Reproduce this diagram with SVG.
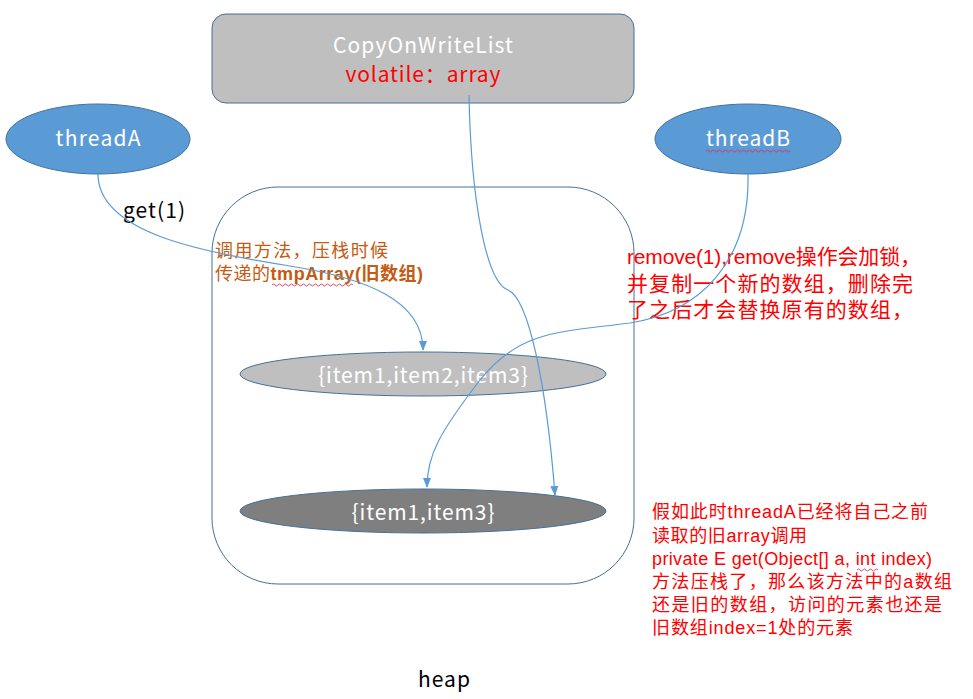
<svg xmlns="http://www.w3.org/2000/svg" width="973" height="699" viewBox="0 0 973 699">
<style>
  text { font-family: "Noto Sans CJK SC", "Liberation Sans", sans-serif; }
  text.ml, .ml text { font-family: "Liberation Sans", "Noto Sans CJK SC", sans-serif; }
  .box { fill: #bfbfbf; stroke: #41719c; stroke-width: 1; }
  .thread { fill: #5b9bd5; stroke: #41719c; stroke-width: 1; }
  .heap { fill: none; stroke: #41719c; stroke-width: 1; }
  .arr1 { fill: #bfbfbf; stroke: #41719c; stroke-width: 1; }
  .arr2 { fill: #7f7f7f; stroke: #41719c; stroke-width: 1; }
  .wt { fill: #ffffff; font-size: 21px; text-anchor: middle; }
  .red { fill: #ff0000; }
  .org { fill: #c55a11; font-size: 18px; }
  .blk { fill: #000000; font-size: 21px; }
  .conn { fill: none; stroke: #5b9bd5; stroke-width: 1.2; }
  .squig { fill: none; stroke: #e03060; stroke-width: 0.9; }
</style>
<defs>
  <marker id="ah" markerUnits="userSpaceOnUse" markerWidth="10" markerHeight="10" viewBox="0 0 10 10" refX="9" refY="5" orient="auto">
    <path d="M0,1 L10,5 L0,9 Z" fill="#5b9bd5"/>
  </marker>
</defs>

<g id="copyOnWriteList">
  <rect class="box" x="212" y="14" width="422" height="89" rx="14"/>
  <text class="wt" x="423" y="53" textLength="180">CopyOnWriteList</text>
  <text class="red" x="423" y="82" font-size="21" text-anchor="middle" textLength="155">volatile：array</text>
</g>

<g id="threadA">
  <ellipse class="thread" cx="98" cy="139" rx="92" ry="35"/>
  <text class="wt" x="98" y="146" textLength="85">threadA</text>
</g>

<g id="threadB">
  <ellipse class="thread" cx="748" cy="139" rx="93" ry="35"/>
  <text class="wt" x="748" y="146" textLength="84">threadB</text>
  <path class="squig" d="M706,151 q1.5,-2 3,0 t3,0 t3,0 t3,0 t3,0 t3,0 t3,0 t3,0 t3,0 t3,0 t3,0 t3,0 t3,0 t3,0 t3,0 t3,0 t3,0 t3,0 t3,0 t3,0 t3,0 t3,0 t3,0 t3,0 t3,0 t3,0 t3,0 t3,0"/>
</g>

<g id="heap">
  <rect class="heap" x="212" y="187" width="422" height="397" rx="66"/>
  <text class="blk" x="418" y="687" textLength="52">heap</text>
</g>

<g id="oldArray">
  <ellipse class="arr1" cx="423" cy="374" rx="183" ry="22"/>
  <text class="wt" x="423" y="383" textLength="210">{item1,item2,item3}</text>
</g>

<g id="newArray">
  <ellipse class="arr2" cx="423" cy="511" rx="183" ry="22"/>
  <text class="wt" x="423" y="520" textLength="143">{item1,item3}</text>
</g>

<g id="labels">
  <text class="blk" x="123" y="218" textLength="62">get(1)</text>
  <text class="org ml" x="215" y="257" textLength="173">调用方法，压栈时候</text>
  <text class="org ml" x="215" y="280" textLength="208">传递的<tspan font-weight="bold">tmpArray(旧数组)</tspan></text>
  <path class="squig" d="M272,285 q1.5,-2 3,0 t3,0 t3,0 t3,0 t3,0 t3,0 t3,0 t3,0 t3,0 t3,0 t3,0 t3,0 t3,0 t3,0 t3,0 t3,0 t3,0 t3,0 t3,0 t3,0 t3,0 t3,0 t3,0 t3,0 t3,0 t3,0 t3,0"/>

  <g class="red ml" font-size="21">
    <text x="627" y="264" textLength="294">remove(1),remove操作会加锁，</text>
    <text x="627" y="291" textLength="286">并复制一个新的数组，删除完</text>
    <text x="627" y="317" textLength="286">了之后才会替换原有的数组，</text>
  </g>

  <g class="red ml" font-size="18">
    <text x="652" y="518" textLength="276">假如此时threadA已经将自己之前</text>
    <text x="652" y="542" textLength="155">读取的旧array调用</text>
    <text x="652" y="565" textLength="280">private E get(Object[] a, int index)</text>
    <text x="652" y="588" textLength="300">方法压栈了，那么该方法中的a数组</text>
    <text x="652" y="611" textLength="290">还是旧的数组，访问的元素也还是</text>
    <text x="652" y="634" textLength="201">旧数组index=1处的元素</text>
  </g>
  <path class="squig" d="M857,570 q1.5,-2 3,0 t3,0 t3,0 t3,0 t3,0 t3,0 t3,0"/>
</g>

<g id="connectors">
  <path class="conn" d="M98,174 C98,232 200,252 290,266 C365,278 423,300 423,350" marker-end="url(#ah)"/>
  <path class="conn" d="M469,95 C471,200 486,282 508,290 C528,298 546,380 555,495" marker-end="url(#ah)"/>
  <path class="conn" d="M748,174 C750,262 700,312 630,323 C560,332 520,330 480,380 C440,432 427,455 427,487" marker-end="url(#ah)"/>
</g>
</svg>
